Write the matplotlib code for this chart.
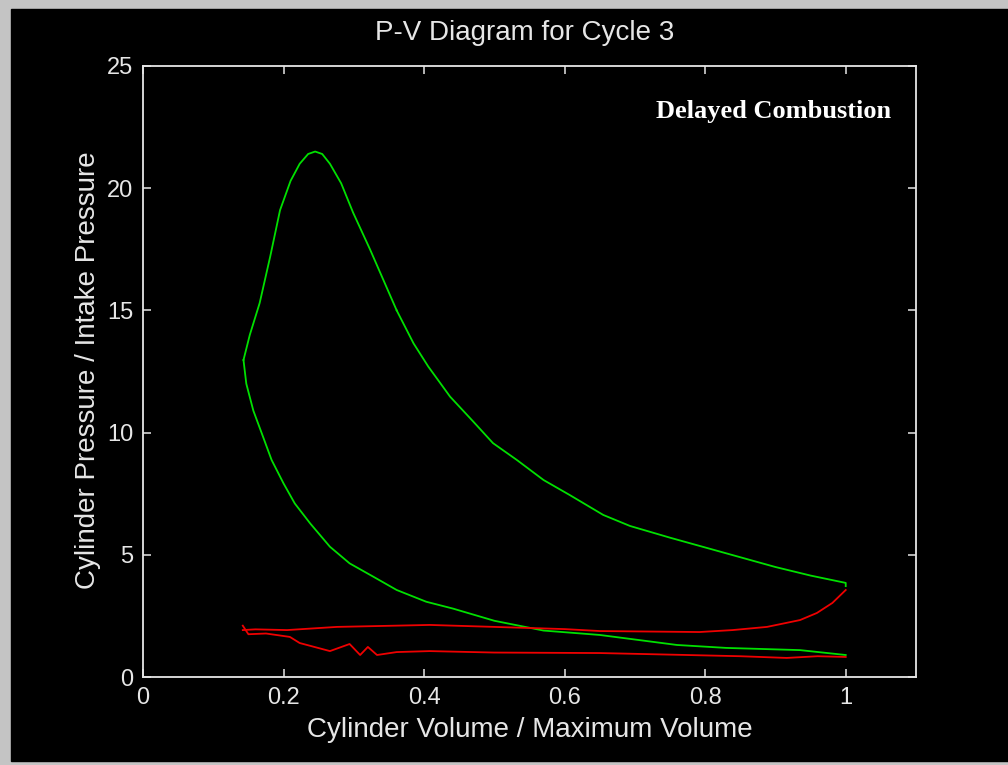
import matplotlib
matplotlib.use("Agg")
import matplotlib.pyplot as plt
from matplotlib.patches import Rectangle

# green: compression (V=1 -> TDC), combustion, expansion (TDC -> V=1)
comp_v = [1.0, 0.935, 0.83, 0.76, 0.65, 0.57, 0.5, 0.441, 0.403, 0.361, 0.328,
          0.294, 0.266, 0.238, 0.216, 0.2, 0.183, 0.169, 0.157, 0.147, 0.143]
comp_p = [0.9, 1.1, 1.19, 1.31, 1.72, 1.9, 2.3, 2.8, 3.08, 3.56, 4.1,
          4.65, 5.33, 6.28, 7.1, 7.92, 8.88, 9.97, 10.9, 12.0, 12.97]
burn_v = [0.143, 0.152, 0.166, 0.181, 0.195, 0.21, 0.223, 0.235, 0.245,
          0.255, 0.266, 0.282, 0.299, 0.323, 0.361]
burn_p = [12.97, 14.0, 15.3, 17.2, 19.1, 20.3, 21.0, 21.4, 21.5,
          21.4, 21.0, 20.2, 19.0, 17.5, 15.0]
exp_v = [0.361, 0.385, 0.406, 0.437, 0.47, 0.498, 0.532, 0.57, 0.607, 0.655,
         0.693, 0.75, 0.8, 0.85, 0.9, 0.95, 1.0, 1.0]
exp_p = [15.0, 13.65, 12.7, 11.47, 10.45, 9.57, 8.88, 8.06, 7.45, 6.63,
         6.18, 5.7, 5.3, 4.9, 4.5, 4.15, 3.85, 3.72]

# red: exhaust (V=1 -> TDC) and intake (TDC -> V=1)
exh_v = [1.0, 0.981, 0.959, 0.935, 0.888, 0.839, 0.792, 0.65, 0.6, 0.5,
         0.408, 0.276, 0.205, 0.16, 0.142]
exh_p = [3.56, 3.03, 2.62, 2.33, 2.05, 1.92, 1.84, 1.88, 1.96, 2.05,
         2.13, 2.05, 1.92, 1.95, 1.92]
int_v = [0.142, 0.15, 0.175, 0.209, 0.223, 0.266, 0.294, 0.309, 0.32, 0.333,
         0.361, 0.408, 0.5, 0.65, 0.774, 0.85, 0.916, 0.96, 1.0]
int_p = [2.1, 1.75, 1.78, 1.64, 1.39, 1.06, 1.35, 0.9, 1.23, 0.9,
         1.02, 1.06, 1.0, 0.98, 0.9, 0.85, 0.78, 0.85, 0.82]

fg = "#e6e6e6"
fig = plt.figure(figsize=(10.08, 7.65), dpi=100, facecolor="#c4c4c4")
fig.patches.append(Rectangle((11 / 1008, 4 / 765), 997 / 1008, 752 / 765,
                             transform=fig.transFigure, color="black", zorder=-5))

ax = fig.add_axes([143 / 1008, 88 / 765, 773 / 1008, 611 / 765])
ax.set_facecolor("black")

green = "#00e000"
red = "#ee0000"
ax.plot(comp_v, comp_p, color=green, lw=1.3)
ax.plot(burn_v, burn_p, color=green, lw=1.3)
ax.plot(exp_v, exp_p, color=green, lw=1.3)
ax.plot(exh_v, exh_p, color=red, lw=1.3)
ax.plot(int_v, int_p, color=red, lw=1.3)

ax.set_xlim(0, 1.1)
ax.set_ylim(0, 25)
ax.set_xticks([0, 0.2, 0.4, 0.6, 0.8, 1])
ax.set_xticklabels(["0", "0.2", "0.4", "0.6", "0.8", "1"])
ax.set_yticks([0, 5, 10, 15, 20, 25])
for s in ax.spines.values():
    s.set_color(fg)
    s.set_linewidth(1.3)
ax.tick_params(direction="in", length=6, width=1.1, color=fg, top=True, right=True,
               labelcolor=fg, labelsize=17, pad=7)
for lab in ax.get_xticklabels() + ax.get_yticklabels():
    lab.set_family("Liberation Sans")

ax.text(0.968, 0.925, "Delayed Combustion", transform=ax.transAxes, ha="right",
        va="center", color="white", fontsize=19, fontweight="bold",
        family="Liberation Serif")

fig.text(525 / 1008, 1 - 33 / 765, "P-V Diagram for Cycle 3", ha="center",
         va="center", color=fg, fontsize=20, family="Liberation Sans")
fig.text(530 / 1008, 1 - 730 / 765, "Cylinder Volume / Maximum Volume",
         ha="center", va="center", color=fg, fontsize=20, family="Liberation Sans")
fig.text(88 / 1008, 1 - 370 / 765, "Cylinder Pressure / Intake Pressure",
         ha="center", va="center", rotation=90, color=fg, fontsize=20,
         family="Liberation Sans")

fig.savefig("out.png", dpi=100, facecolor=fig.get_facecolor())
